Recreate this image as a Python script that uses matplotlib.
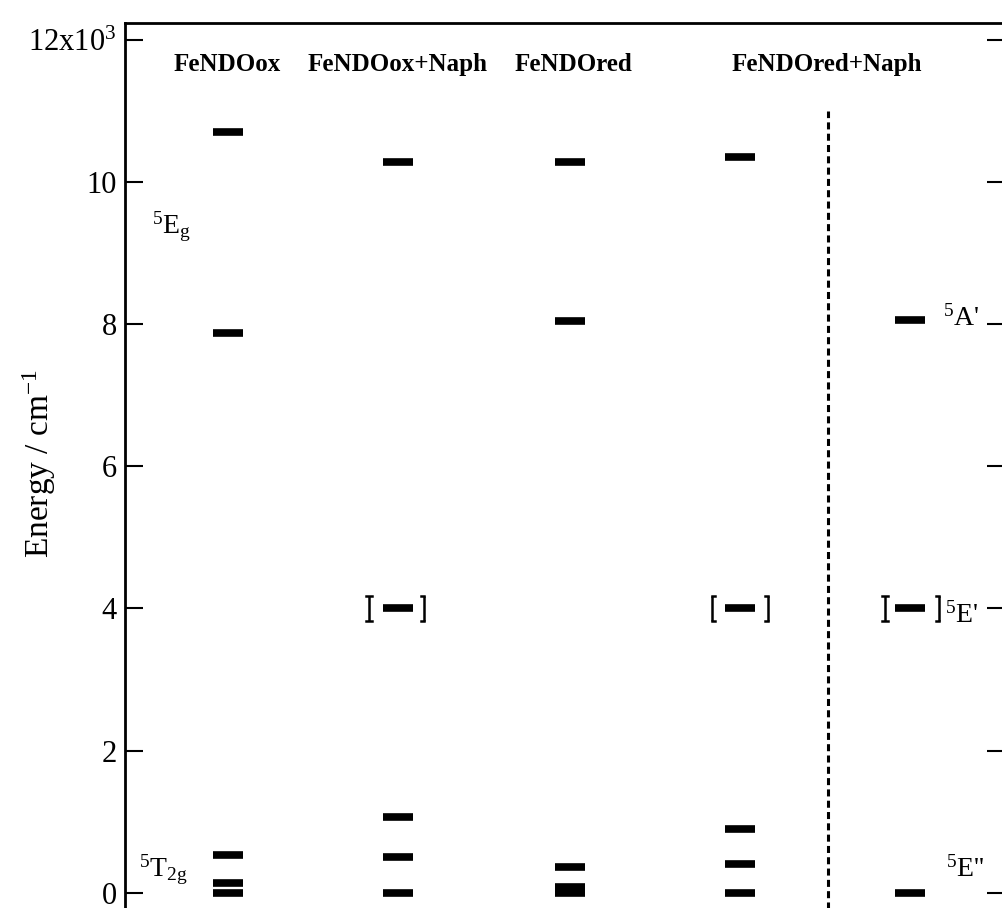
import matplotlib
matplotlib.use('Agg')
import matplotlib.pyplot as plt
from matplotlib.ticker import FixedLocator, FixedFormatter

# Fonts: Times-like serif throughout
plt.rcParams['font.family'] = ['Liberation Serif', 'DejaVu Serif']
plt.rcParams['mathtext.fontset'] = 'custom'
plt.rcParams['mathtext.rm'] = 'Liberation Serif'
plt.rcParams['mathtext.it'] = 'Liberation Serif:italic'
plt.rcParams['mathtext.bf'] = 'Liberation Serif:bold'

# Energy levels (cm^-1)
titles = ['FeNDOox', 'FeNDOox+Naph', 'FeNDOred', 'FeNDOred+Naph']
lev_ox = [0, 130, 530, 7880, 10700]
lev_ox_naph = [0, 500, 1060, 4000, 10280]
lev_red = [0, 85, 360, 8040, 10280]
lev_red_naph = [0, 410, 900, 4000, 10360]
lev_calc = [0, 4000, 8060]
bracket_level = 4000
bracket_half = 170

yticks = [0, 2000, 4000, 6000, 8000, 10000, 12000]
yticklabels = ['0', '2', '4', '6', '8', '10', '12x10$^3$']

# layout (x in the same units as the axes, ~ pixels)
col_x = [228, 398, 570, 740, 910]
title_x = [227, 398, 573, 827]
dash_x = 828
bar_half = 15

fig = plt.figure(figsize=(10.03, 9.08), dpi=100)
ax = fig.add_axes([125 / 1003, (908 - 914) / 908, 880 / 1003, 891 / 908])
ax.set_xlim(125, 1005)
ax.set_ylim(-300, 12240)

all_levels = [lev_ox, lev_ox_naph, lev_red, lev_red_naph, lev_calc]
for x, levs in zip(col_x, all_levels):
    ax.hlines(levs, x - bar_half, x + bar_half, color='black', lw=5.5,
              capstyle='butt')

# brackets around the 4000 level
def bracket(x, side, both=False):
    lo, hi = bracket_level - bracket_half, bracket_level + bracket_half
    ax.plot([x, x], [lo, hi], color='black', lw=1.8, solid_capstyle='butt')
    cap = 3
    for yy in (lo, hi):
        if both:
            ax.plot([x - cap, x + cap], [yy, yy], color='black', lw=1.8)
        else:
            ax.plot([x, x + side * cap], [yy, yy], color='black', lw=1.8)

bracket(col_x[1] - 29, 1, both=True)
bracket(col_x[1] + 26, -1)
bracket(col_x[3] - 28, 1)
bracket(col_x[3] + 28, -1)
bracket(col_x[4] - 25, 1, both=True)
bracket(col_x[4] + 29, -1)

# dashed separator
ax.vlines(dash_x, -300, 11000, color='black', lw=2.2, linestyles=(0, (2.3, 1.4)))

for tx, t in zip(title_x, titles):
    ax.text(tx, 11563, t, ha='center', va='baseline', fontsize=18,
            fontweight='bold')

# term symbols
ax.text(152, 9268, '$^5$E$_\\mathrm{g}$', fontsize=20, va='baseline')
ax.text(139, 225, '$^5$T$_{2\\mathrm{g}}$', fontsize=20, va='baseline')
ax.text(943, 7986, "$^5$A'", fontsize=20, va='baseline')
ax.text(945, 3803, "$^5$E'", fontsize=20, va='baseline')
ax.text(946, 225, "$^5$E''", fontsize=20, va='baseline')

ax.yaxis.set_major_locator(FixedLocator(yticks))
ax.yaxis.set_major_formatter(FixedFormatter(yticklabels))
ax.tick_params(axis='y', direction='in', length=13, width=1.5,
               labelsize=22, right=True, pad=6)
ax.set_xticks([])
for s in ax.spines.values():
    s.set_linewidth(2)

ax.set_ylabel('Energy / cm$^{-1}$', fontsize=24)
ax.yaxis.set_label_coords(-0.076, 0.506)

fig.savefig('out.png', dpi=100)
